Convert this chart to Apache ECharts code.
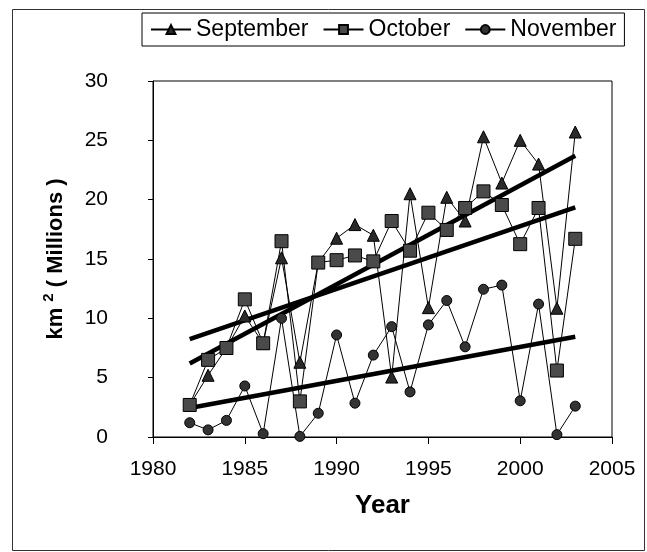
<!DOCTYPE html>
<html>
<head>
<meta charset="utf-8">
<script src="https://cdn.jsdelivr.net/npm/echarts@6/dist/echarts.min.js"></script>
<style>
html,body{margin:0;padding:0;background:#fff;}
#chart{width:647px;height:552px;}
</style>
</head>
<body>
<div id="chart"></div>
<script>
const years = [1982,1983,1984,1985,1986,1987,1988,1989,1990,1991,1992,1993,1994,1995,1996,1997,1998,1999,2000,2001,2002,2003];
const september = [2.7,5.2,7.5,10.2,7.9,15.1,6.3,14.7,16.75,17.9,17.0,5.05,20.5,10.9,20.2,18.2,25.3,21.4,25.0,23.0,10.85,25.7];
const october = [2.7,6.5,7.5,11.6,7.9,16.5,3.0,14.7,14.9,15.3,14.8,18.2,15.7,18.9,17.45,19.3,20.7,19.55,16.25,19.3,5.6,16.7];
const november = [1.2,0.6,1.4,4.3,0.28,10.0,0.05,2.0,8.6,2.85,6.9,9.3,3.8,9.45,11.5,7.6,12.45,12.8,3.05,11.2,0.2,2.6];
const trendYears = [1982, 2003];
const sepTrend = [6.2, 23.7];
const octTrend = [8.25, 19.35];
const novTrend = [2.45, 8.45];
const xTicks = [1980, 1985, 1990, 1995, 2000, 2005];
const yTicks = [0, 5, 10, 15, 20, 25, 30];

const pair = (xs, ys) => xs.map((x, i) => [x, ys[i]]);
const FONT = 'Liberation Sans, Arial, sans-serif';

const chart = echarts.init(document.getElementById('chart'));
const lineSeries = (name, data, symbol, size, fill) => ({
  name, type: 'line', data: pair(years, data),
  symbol, symbolSize: size,
  lineStyle: {color: '#000', width: 1},
  itemStyle: {color: fill, borderColor: '#000', borderWidth: 1},
  emphasis: {disabled: true},
  animation: false
});
const trend = (data) => ({
  type: 'line', data: pair(trendYears, data), symbol: 'none',
  lineStyle: {color: '#000', width: 4.5}, z: 3, silent: true, animation: false
});

chart.setOption({
  animation: false,
  backgroundColor: '#fff',
  graphic: [{
    type: 'rect', shape: {x: 12.5, y: 9.5, width: 632, height: 541},
    style: {fill: 'none', stroke: '#333', lineWidth: 1}, silent: true
  }],
  legend: {
    left: 142, top: 13,
    data: ['September', 'October', 'November'],
    borderColor: '#000', borderWidth: 1,
    padding: [5, 8, 5, 8],
    itemWidth: 40, itemHeight: 11, itemGap: 14,
    textStyle: {fontFamily: FONT, fontSize: 23, color: '#000'},
    selectedMode: false
  },
  grid: {left: 153, right: 35, top: 81, bottom: 115, show: true, borderColor: '#000', borderWidth: 1, backgroundColor: 'transparent'},
  xAxis: {
    type: 'value', min: xTicks[0], max: xTicks[xTicks.length - 1], interval: 5,
    name: 'Year', nameLocation: 'middle', nameGap: 56,
    nameTextStyle: {fontFamily: FONT, fontSize: 26, fontWeight: 'bold', color: '#000'},
    axisLine: {lineStyle: {color: '#000', width: 1}},
    axisTick: {show: true, length: 7, inside: false, lineStyle: {color: '#000'}},
    axisLabel: {fontFamily: FONT, fontSize: 21, color: '#000', margin: 22, formatter: v => String(v)},
    splitLine: {show: false}
  },
  yAxis: {
    type: 'value', min: yTicks[0], max: yTicks[yTicks.length - 1], interval: 5,
    name: '{a|km }{s|2}{a| ( Millions )}', nameLocation: 'middle', nameGap: 86,
    nameTextStyle: {
      fontFamily: FONT, fontSize: 22, fontWeight: 'bold', color: '#000',
      rich: {
        a: {fontFamily: FONT, fontSize: 22, fontWeight: 'bold', color: '#000', verticalAlign: 'bottom', lineHeight: 26},
        s: {fontFamily: FONT, fontSize: 15, fontWeight: 'bold', color: '#000', verticalAlign: 'top', lineHeight: 26}
      }
    },
    axisLine: {show: true, lineStyle: {color: '#000', width: 1}},
    axisTick: {show: true, length: 5, lineStyle: {color: '#000'}},
    axisLabel: {fontFamily: FONT, fontSize: 21, color: '#000', margin: 45},
    splitLine: {show: false}
  },
  series: [
    lineSeries('September', september, 'triangle', 12, '#2a2a2a'),
    lineSeries('October', october, 'rect', 13, '#4a4a4a'),
    lineSeries('November', november, 'circle', 10, '#333'),
    trend(sepTrend), trend(octTrend), trend(novTrend)
  ]
});
</script>
</body>
</html>
